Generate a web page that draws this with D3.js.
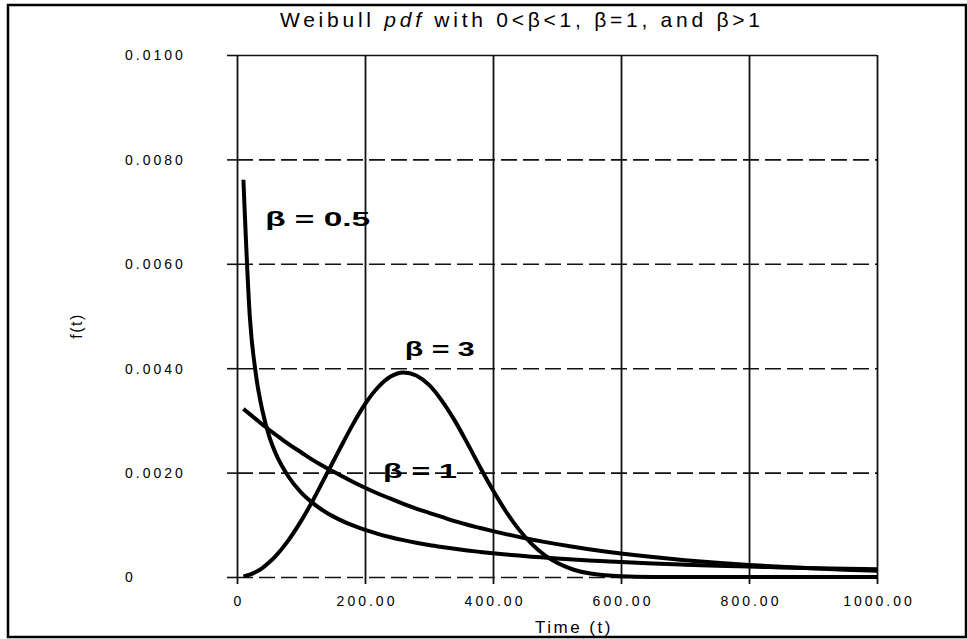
<!DOCTYPE html>
<html><head><meta charset="utf-8">
<script src="https://cdn.jsdelivr.net/npm/d3@7"></script>
<style>body{margin:0;background:#fff}svg{display:block}</style>
</head><body><svg id="c" width="967" height="639"></svg>
<script>
// ---- data ----
const times  = [10,20,30,40,50,60,80,100,120,140,160,180,200,220,240,260,280,300,320,340,360,380,400,420,440,460,480,500,525,550,575,600,650,700,750,800,850,900,950,1000];
const beta05 = [0.00761,0.00499,0.00384,0.00317,0.00271,0.00238,0.00193,0.00162,0.00140,0.00123,0.00110,0.000992,0.000902,0.000827,0.000762,0.000706,0.000657,0.000613,0.000575,0.000540,0.000509,0.000481,0.000455,0.000431,0.000410,0.000390,0.000372,0.000355,0.000336,0.000318,0.000302,0.000287,0.000260,0.000237,0.000217,0.000199,0.000184,0.000170,0.000158,0.000147];
const beta1  = [0.00322,0.00312,0.00302,0.00292,0.00282,0.00273,0.00255,0.00239,0.00223,0.00209,0.00196,0.00183,0.00171,0.00160,0.00150,0.00140,0.00131,0.00123,0.00115,0.00107,0.00100,0.000939,0.000879,0.000822,0.000769,0.000719,0.000673,0.000630,0.000579,0.000533,0.000490,0.000451,0.000382,0.000323,0.000274,0.000232,0.000196,0.000166,0.000140,0.000119];
const beta3  = [0.0000111,0.0000444,0.0000999,0.000177,0.000277,0.000397,0.000698,0.00107,0.00150,0.00197,0.00244,0.00290,0.00331,0.00363,0.00384,0.00392,0.00386,0.00368,0.00338,0.00300,0.00256,0.00210,0.00166,0.00126,0.000917,0.000639,0.000426,0.000271,0.000144,0.0000709,0.0000322,0.0000134,0.0000018,0,0,0,0,0,0,0];
const seriesNames = ["β = 0.5","β = 1","β = 3"];
const labelAt = [[44,0.00673],[228,0.00190],[262,0.00424]]; // [time, f(t)] anchor of each series label
const xTicks = [0,200,400,600,800,1000];
const xTickLabels = ["0","200.00","400.00","600.00","800.00","1000.00"];
const yTicks = [0,0.002,0.004,0.006,0.008,0.010];
const yTickLabels = ["0","0.0020","0.0040","0.0060","0.0080","0.0100"];
const title = ["Weibull ","pdf"," with 0<β<1, β=1, and β>1"];

// ---- layout ----
const L=237,R=877,T=55,B=577;
const svg=d3.select("#c");
const font="'Liberation Sans',Arial,sans-serif";
svg.append("rect").attr("x",8).attr("y",5).attr("width",958).attr("height",632)
  .attr("fill","#fff").attr("stroke","#000").attr("stroke-width",2.5);

const x=d3.scaleLinear().domain([0,1000]).range([L,R]);
const y=d3.scaleLinear().domain([0,0.01]).range([B,T]);

// horizontal dashed grid
const gy=svg.append("g").attr("transform",`translate(${L},0)`)
  .call(d3.axisLeft(y).tickValues(yTicks).tickSize(-(R-L)).tickFormat(""));
gy.select(".domain").remove();
gy.selectAll(".tick line").attr("stroke","#111").attr("stroke-width",1.6)
  .attr("stroke-dasharray",d=>d===0.01?null:"16,6");
// vertical solid grid
const gx=svg.append("g").attr("transform",`translate(0,${B})`)
  .call(d3.axisBottom(x).tickValues(xTicks).tickSize(-(B-T)).tickFormat(""));
gx.select(".domain").remove();
gx.selectAll(".tick line").attr("stroke","#111").attr("stroke-width",1.8);

// axes with ticks and labels
const ay=svg.append("g").attr("transform",`translate(${L},0)`)
  .call(d3.axisLeft(y).tickValues(yTicks).tickSize(10).tickFormat((d,i)=>yTickLabels[i]));
ay.select(".domain").remove();
ay.selectAll(".tick line").attr("stroke","#111").attr("stroke-width",1.6);
ay.selectAll(".tick text").attr("text-anchor","start").attr("x",-(L-125)).attr("dy","0.35em")
  .attr("font-family",font).attr("font-size",14).attr("letter-spacing",3).attr("fill","#000");
const ax=svg.append("g").attr("transform",`translate(0,${B})`)
  .call(d3.axisBottom(x).tickValues(xTicks).tickSize(7).tickFormat((d,i)=>xTickLabels[i]));
ax.select(".domain").remove();
ax.selectAll(".tick line").attr("stroke","#111").attr("stroke-width",1.8);
ax.selectAll(".tick text").attr("y",29).attr("dy",0).attr("dx",1.5)
  .attr("font-family",font).attr("font-size",14).attr("letter-spacing",3).attr("fill","#000");

// curves
const line=d3.line().x((d,i)=>x(times[i])).y(d=>y(d)).curve(d3.curveMonotoneX);
[beta05,beta1,beta3].forEach(s=>{
  svg.append("path").attr("d",line(s)).attr("fill","none").attr("stroke","#000")
    .attr("stroke-width",4).attr("stroke-linejoin","round");
});

// series labels
const labelWidths=[105,74,70];
seriesNames.forEach((n,i)=>{
  svg.append("text").attr("x",x(labelAt[i][0])).attr("y",y(labelAt[i][1]))
    .attr("font-family",font).attr("font-weight","bold").attr("font-size",20)
    .attr("textLength",labelWidths[i]).attr("lengthAdjust","spacingAndGlyphs")
    .text(n);
});

// title
const tt=svg.append("text").attr("x",280).attr("y",27)
  .attr("font-family",font).attr("font-size",21).attr("fill","#000")
  .attr("textLength",480).attr("lengthAdjust","spacing");
tt.append("tspan").text(title[0]);
tt.append("tspan").attr("font-style","italic").text(title[1]);
tt.append("tspan").text(title[2]);

// axis titles
svg.append("text").attr("x",535).attr("y",633)
  .attr("font-family",font).attr("font-size",17).attr("letter-spacing",2.5).text("Time (t)");
svg.append("text").attr("transform","translate(82,326) rotate(-90)").attr("text-anchor","middle")
  .attr("font-family",font).attr("font-size",16).attr("letter-spacing",1.5).text("f(t)");
</script></body></html>
